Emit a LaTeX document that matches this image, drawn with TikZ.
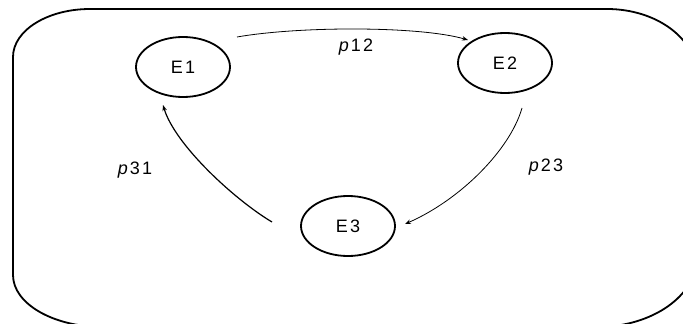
\documentclass[tikz,border=0pt]{standalone}
\usepackage{fontspec}
\setmainfont{Liberation Sans}
\newfontfamily\lblfont[LetterSpace=12]{Liberation Sans}
\usetikzlibrary{arrows.meta}
\usetikzlibrary{shapes.geometric}
\tikzset{
  state/.style={draw, line width=1.8pt, ellipse, minimum width=94pt, minimum height=60pt, inner sep=0pt, font=\lblfont\fontsize{18}{20}\selectfont},
  trans/.style={line width=0.8pt, -{Stealth[length=6pt,width=4.5pt]}},
  plabel/.style={font=\lblfont\fontsize{18}{20}\selectfont},
}
\begin{document}
\begin{tikzpicture}[x=1pt,y=-1pt]
\useasboundingbox (0,0) rectangle (683,324);
\clip (0,0) rectangle (683,324);
% outer frame
\draw[line width=1.8pt] (13,57) -- (13,275)
  .. controls (13,303.7) and (53.3,327) .. (103,327)
  -- (597,327)
  .. controls (652.2,327) and (697,295.6) .. (697,257)
  -- (697,76)
  .. controls (697,39) and (656.7,9) .. (607,9)
  -- (90,9)
  .. controls (47.5,9) and (13,30.5) .. (13,57) -- cycle;
% states
\node[state] (E1) at (183,67) {E1};
\node[state] (E2) at (505,63) {E2};
\node[state] (E3) at (348,226) {E3};
% connector ends
\coordinate (s12) at (237,37);
\coordinate (t12) at (468,40);
\coordinate (s23) at (522,108);
\coordinate (t23) at (405,224);
\coordinate (s31) at (272,222);
\coordinate (t31) at (163,105);
\draw[trans] (s12) .. controls (300,26) and (420,26) .. (t12);
\draw[trans] (s23) .. controls (510,150) and (460,200) .. (t23);
\draw[trans, line width=1.2pt] (s31) .. controls (235,200) and (175,145) .. (t31);
% labels
\node[plabel] (l12) at (356,47) {\textit{p}12};
\node[plabel] (l23) at (546,167) {\textit{p}23};
\node[plabel] (l31) at (135,170) {\textit{p}31};
\end{tikzpicture}
\end{document}
